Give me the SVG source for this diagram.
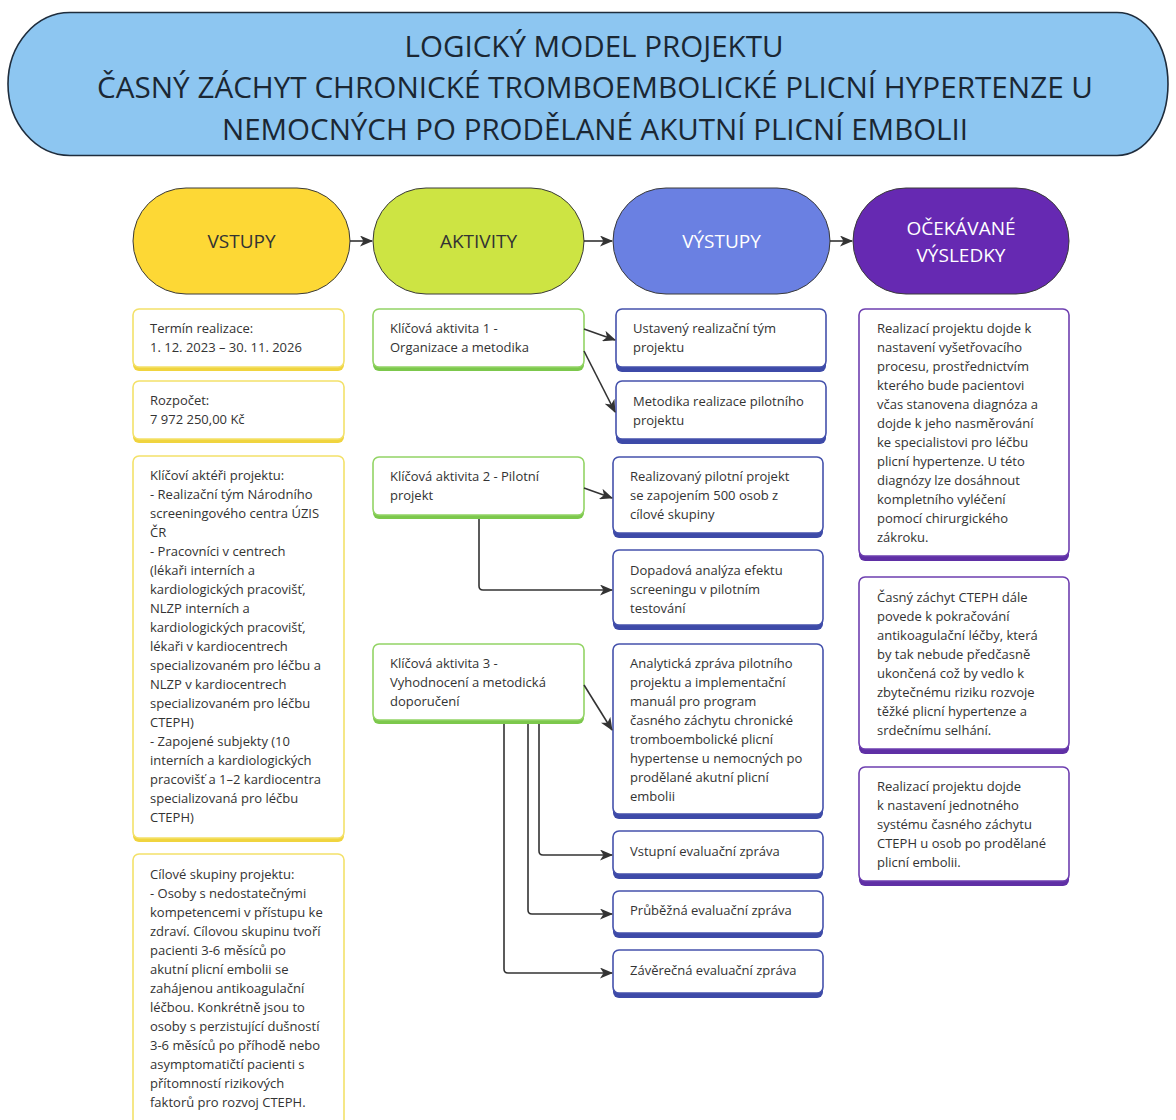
<svg xmlns="http://www.w3.org/2000/svg" width="1176" height="1120" viewBox="0 0 1176 1120">
<defs>
<style>
.t{font-family:"Open Sans","Noto Sans","DejaVu Sans",sans-serif;font-size:13px;fill:#333}
.h{font-family:"Open Sans","Noto Sans","DejaVu Sans",sans-serif;font-size:19px;text-anchor:middle}
.ttl{font-family:"Open Sans","Noto Sans","DejaVu Sans",sans-serif;font-size:30px;fill:#1b2733;text-anchor:middle}
.pill{stroke:#3a3a3a;stroke-width:1}
.c{fill:none;stroke:#333;stroke-width:1.6;marker-end:url(#ah)}
.yb{fill:#F0D43F}.yw{fill:#fff;stroke:#F3E16A;stroke-width:1.6}
.gb{fill:#7CC84C}.gw{fill:#fff;stroke:#93D465;stroke-width:1.6}
.bb{fill:#3D4AA8}.bw{fill:#fff;stroke:#4552AC;stroke-width:1.6}
.pb{fill:#5F2FA5}.pw{fill:#fff;stroke:#6E3FB0;stroke-width:1.6}
</style>
<marker id="ah" markerUnits="userSpaceOnUse" markerWidth="13" markerHeight="11" refX="12" refY="5.5" orient="auto">
<path d="M0,0 L13,5.5 L0,11 L3.5,5.5 Z" fill="#333"/>
</marker>
</defs>
<rect width="1176" height="1120" fill="#fff"/>

<g id="title">
<path d="M70 12.5 H1117 A51 71.5 0 0 1 1117 155.5 H70 A62 71.5 0 0 1 70 12.5 Z" fill="#8DC6F1" stroke="#1f2d3d" stroke-width="1.6"/>
<text class="ttl" x="594" y="57" textLength="379" lengthAdjust="spacingAndGlyphs">LOGICKÝ MODEL PROJEKTU</text>
<text class="ttl" x="595" y="98" textLength="996" lengthAdjust="spacingAndGlyphs">ČASNÝ ZÁCHYT CHRONICKÉ TROMBOEMBOLICKÉ PLICNÍ HYPERTENZE U</text>
<text class="ttl" x="595" y="140" textLength="746" lengthAdjust="spacingAndGlyphs">NEMOCNÝCH PO PRODĚLANÉ AKUTNÍ PLICNÍ EMBOLII</text>
</g>

<g id="h-vstupy"><rect class="pill" x="133" y="188" width="217" height="106" rx="53" fill="#FDD835"/><text class="h" x="241.5" y="248" fill="#333">VSTUPY</text></g>
<g id="h-aktivity"><rect class="pill" x="373" y="188" width="211" height="106" rx="53" fill="#CDE443"/><text class="h" x="478.5" y="248" fill="#333">AKTIVITY</text></g>
<g id="h-vystupy"><rect class="pill" x="613" y="188" width="217" height="106" rx="53" fill="#6A80E2"/><text class="h" x="721.5" y="248" fill="#fff">VÝSTUPY</text></g>
<g id="h-vysledky"><rect class="pill" x="853" y="188" width="216" height="106" rx="53" fill="#6629B2"/><text class="h" x="961" y="235" fill="#fff">OČEKÁVANÉ</text><text class="h" x="961" y="262" fill="#fff">VÝSLEDKY</text></g>

<g id="in1"><rect class="yb" x="133" y="309" width="211" height="62" rx="6"/><rect class="yw" x="133" y="309" width="211" height="58" rx="6"/>
<text class="t" x="150" y="333">Termín realizace:</text><text class="t" x="150" y="352">1. 12. 2023 – 30. 11. 2026</text></g>
<g id="in2"><rect class="yb" x="133" y="381" width="211" height="62" rx="6"/><rect class="yw" x="133" y="381" width="211" height="58" rx="6"/>
<text class="t" x="150" y="405">Rozpočet:</text><text class="t" x="150" y="424">7 972 250,00 Kč</text></g>
<g id="in3"><rect class="yb" x="133" y="456" width="211" height="386" rx="6"/><rect class="yw" x="133" y="456" width="211" height="382" rx="6"/>
<text class="t" x="150" y="480">Klíčoví aktéři projektu:</text>
<text class="t" x="150" y="499">- Realizační tým Národního</text>
<text class="t" x="150" y="518">screeningového centra ÚZIS</text>
<text class="t" x="150" y="537">ČR</text>
<text class="t" x="150" y="556">- Pracovníci v centrech</text>
<text class="t" x="150" y="575">(lékaři interních a</text>
<text class="t" x="150" y="594">kardiologických pracovišť,</text>
<text class="t" x="150" y="613">NLZP interních a</text>
<text class="t" x="150" y="632">kardiologických pracovišť,</text>
<text class="t" x="150" y="651">lékaři v kardiocentrech</text>
<text class="t" x="150" y="670">specializovaném pro léčbu a</text>
<text class="t" x="150" y="689">NLZP v kardiocentrech</text>
<text class="t" x="150" y="708">specializovaném pro léčbu</text>
<text class="t" x="150" y="727">CTEPH)</text>
<text class="t" x="150" y="746">- Zapojené subjekty (10</text>
<text class="t" x="150" y="765">interních a kardiologických</text>
<text class="t" x="150" y="784">pracovišť a 1–2 kardiocentra</text>
<text class="t" x="150" y="803">specializovaná pro léčbu</text>
<text class="t" x="150" y="822">CTEPH)</text></g>
<g id="in4"><rect class="yb" x="133" y="854" width="211" height="280" rx="6"/><rect class="yw" x="133" y="854" width="211" height="276" rx="6"/>
<text class="t" x="150" y="879">Cílové skupiny projektu:</text>
<text class="t" x="150" y="898">- Osoby s nedostatečnými</text>
<text class="t" x="150" y="917">kompetencemi v přístupu ke</text>
<text class="t" x="150" y="936">zdraví. Cílovou skupinu tvoří</text>
<text class="t" x="150" y="955">pacienti 3-6 měsíců po</text>
<text class="t" x="150" y="974">akutní plicní embolii se</text>
<text class="t" x="150" y="993">zahájenou antikoagulační</text>
<text class="t" x="150" y="1012">léčbou. Konkrétně jsou to</text>
<text class="t" x="150" y="1031">osoby s perzistující dušností</text>
<text class="t" x="150" y="1050">3-6 měsíců po příhodě nebo</text>
<text class="t" x="150" y="1069">asymptomatičtí pacienti s</text>
<text class="t" x="150" y="1088">přítomností rizikových</text>
<text class="t" x="150" y="1107">faktorů pro rozvoj CTEPH.</text></g>

<g id="ka1"><rect class="gb" x="373" y="309" width="211" height="62" rx="6"/><rect class="gw" x="373" y="309" width="211" height="58" rx="6"/>
<text class="t" x="390" y="333">Klíčová aktivita 1 -</text><text class="t" x="390" y="352">Organizace a metodika</text></g>
<g id="ka2"><rect class="gb" x="373" y="457" width="211" height="62" rx="6"/><rect class="gw" x="373" y="457" width="211" height="58" rx="6"/>
<text class="t" x="390" y="481">Klíčová aktivita 2 - Pilotní</text><text class="t" x="390" y="500">projekt</text></g>
<g id="ka3"><rect class="gb" x="373" y="644" width="211" height="80" rx="6"/><rect class="gw" x="373" y="644" width="211" height="76" rx="6"/>
<text class="t" x="390" y="668">Klíčová aktivita 3 -</text><text class="t" x="390" y="687">Vyhodnocení a metodická</text><text class="t" x="390" y="706">doporučení</text></g>

<g id="out1"><rect class="bb" x="616" y="309" width="210" height="63" rx="6"/><rect class="bw" x="616" y="309" width="210" height="58" rx="6"/>
<text class="t" x="633" y="333">Ustavený realizační tým</text><text class="t" x="633" y="352">projektu</text></g>
<g id="out2"><rect class="bb" x="616" y="381" width="210" height="63" rx="6"/><rect class="bw" x="616" y="381" width="210" height="58" rx="6"/>
<text class="t" x="633" y="406">Metodika realizace pilotního</text><text class="t" x="633" y="425">projektu</text></g>
<g id="out3"><rect class="bb" x="613" y="457" width="210" height="81" rx="6"/><rect class="bw" x="613" y="457" width="210" height="76" rx="6"/>
<text class="t" x="630" y="481">Realizovaný pilotní projekt</text><text class="t" x="630" y="500">se zapojením 500 osob z</text><text class="t" x="630" y="519">cílové skupiny</text></g>
<g id="out4"><rect class="bb" x="613" y="550" width="210" height="80" rx="6"/><rect class="bw" x="613" y="550" width="210" height="75" rx="6"/>
<text class="t" x="630" y="575">Dopadová analýza efektu</text><text class="t" x="630" y="594">screeningu v pilotním</text><text class="t" x="630" y="613">testování</text></g>
<g id="out5"><rect class="bb" x="613" y="644" width="210" height="175" rx="6"/><rect class="bw" x="613" y="644" width="210" height="170" rx="6"/>
<text class="t" x="630" y="668">Analytická zpráva pilotního</text>
<text class="t" x="630" y="687">projektu a implementační</text>
<text class="t" x="630" y="706">manuál pro program</text>
<text class="t" x="630" y="725">časného záchytu chronické</text>
<text class="t" x="630" y="744">tromboembolické plicní</text>
<text class="t" x="630" y="763">hypertense u nemocných po</text>
<text class="t" x="630" y="782">prodělané akutní plicní</text>
<text class="t" x="630" y="801">embolii</text></g>
<g id="out6"><rect class="bb" x="613" y="831" width="210" height="48" rx="6"/><rect class="bw" x="613" y="831" width="210" height="43" rx="6"/>
<text class="t" x="630" y="856">Vstupní evaluační zpráva</text></g>
<g id="out7"><rect class="bb" x="613" y="891" width="210" height="47" rx="6"/><rect class="bw" x="613" y="891" width="210" height="42" rx="6"/>
<text class="t" x="630" y="915">Průběžná evaluační zpráva</text></g>
<g id="out8"><rect class="bb" x="613" y="950" width="210" height="48" rx="6"/><rect class="bw" x="613" y="950" width="210" height="43" rx="6"/>
<text class="t" x="630" y="975">Závěrečná evaluační zpráva</text></g>

<g id="res1"><rect class="pb" x="859" y="309" width="210" height="252" rx="6"/><rect class="pw" x="859" y="309" width="210" height="247" rx="6"/>
<text class="t" x="877" y="333">Realizací projektu dojde k</text>
<text class="t" x="877" y="352">nastavení vyšetřovacího</text>
<text class="t" x="877" y="371">procesu, prostřednictvím</text>
<text class="t" x="877" y="390">kterého bude pacientovi</text>
<text class="t" x="877" y="409">včas stanovena diagnóza a</text>
<text class="t" x="877" y="428">dojde k jeho nasměrování</text>
<text class="t" x="877" y="447">ke specialistovi pro léčbu</text>
<text class="t" x="877" y="466">plicní hypertenze. U této</text>
<text class="t" x="877" y="485">diagnózy lze dosáhnout</text>
<text class="t" x="877" y="504">kompletního vyléčení</text>
<text class="t" x="877" y="523">pomocí chirurgického</text>
<text class="t" x="877" y="542">zákroku.</text></g>
<g id="res2"><rect class="pb" x="859" y="577" width="210" height="177" rx="6"/><rect class="pw" x="859" y="577" width="210" height="172" rx="6"/>
<text class="t" x="877" y="602">Časný záchyt CTEPH dále</text>
<text class="t" x="877" y="621">povede k pokračování</text>
<text class="t" x="877" y="640">antikoagulační léčby, která</text>
<text class="t" x="877" y="659">by tak nebude předčasně</text>
<text class="t" x="877" y="678">ukončená což by vedlo k</text>
<text class="t" x="877" y="697">zbytečnému riziku rozvoje</text>
<text class="t" x="877" y="716">těžké plicní hypertenze a</text>
<text class="t" x="877" y="735">srdečnímu selhání.</text></g>
<g id="res3"><rect class="pb" x="859" y="767" width="210" height="119" rx="6"/><rect class="pw" x="859" y="767" width="210" height="114" rx="6"/>
<text class="t" x="877" y="791">Realizací projektu dojde</text>
<text class="t" x="877" y="810">k nastavení jednotného</text>
<text class="t" x="877" y="829">systému časného záchytu</text>
<text class="t" x="877" y="848">CTEPH u osob po prodělané</text>
<text class="t" x="877" y="867">plicní embolii.</text></g>

<g id="connectors">
<path class="c" d="M350 241 H372"/>
<path class="c" d="M584 241 H612"/>
<path class="c" d="M830 241 H852"/>
<path class="c" d="M584 329 L615 340"/>
<path class="c" d="M584 351 L615 412"/>
<path class="c" d="M584 488 L612 498"/>
<path class="c" d="M479 519 V586 Q479 590 483 590 H612"/>
<path class="c" d="M584 685 L612 730"/>
<path class="c" d="M539 724 V851 Q539 855 543 855 H612"/>
<path class="c" d="M528 724 V910 Q528 914 532 914 H612"/>
<path class="c" d="M504 724 V969 Q504 973 508 973 H612"/>
</g>
</svg>
